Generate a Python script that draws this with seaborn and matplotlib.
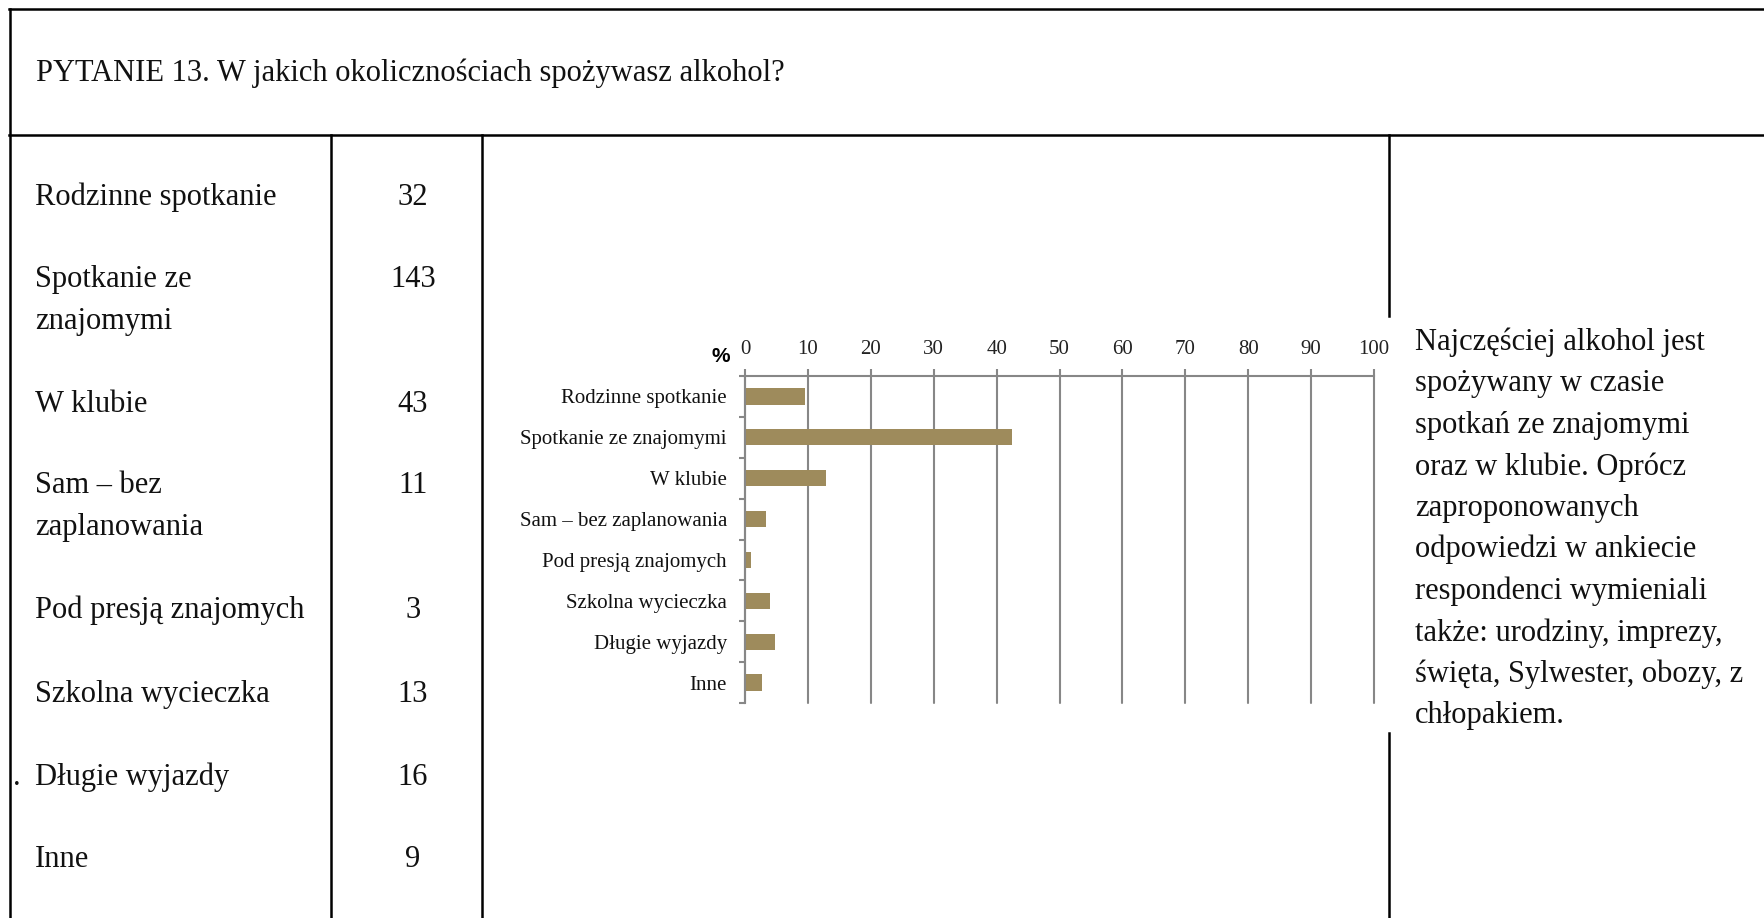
import numpy as np
import pandas as pd
import matplotlib
matplotlib.use("Agg")
import matplotlib.pyplot as plt
from matplotlib.lines import Line2D
import seaborn as sns

# ---------------- data ----------------
categories = ["Rodzinne spotkanie", "Spotkanie ze znajomymi", "W klubie",
              "Sam – bez zaplanowania", "Pod presją znajomych",
              "Szkolna wycieczka", "Długie wyjazdy", "Inne"]
counts = [32, 143, 43, 11, 3, 13, 16, 9]
percent = [9.5, 42.4, 12.8, 3.3, 0.9, 3.9, 4.7, 2.7]
x_ticks = [0, 10, 20, 30, 40, 50, 60, 70, 80, 90, 100]
table_labels = ["Rodzinne spotkanie", "Spotkanie ze\nznajomymi", "W klubie",
                "Sam – bez\nzaplanowania", "Pod presją znajomych",
                "Szkolna wycieczka", "Długie wyjazdy", "Inne"]
title = "PYTANIE 13. W jakich okolicznościach spożywasz alkohol?"
comment_lines = ["Najczęściej alkohol jest", "spożywany w czasie",
                 "spotkań ze znajomymi", "oraz w klubie. Oprócz",
                 "zaproponowanych", "odpowiedzi w ankiecie",
                 "respondenci wymieniali", "także: urodziny, imprezy,",
                 "święta, Sylwester, obozy, z", "chłopakiem."]

# ---------------- style / layout ----------------
W, H = 1764, 918
BAR = "#9E8B5C"
GRID = "#878787"
TXT = "#111111"
SERIF = ["Liberation Serif", "DejaVu Serif"]

sns.set_theme(style="white")
plt.rcParams["font.family"] = SERIF


def fx(px):
    return px / W


def fy(py):
    return 1 - py / H


fig = plt.figure(figsize=(W / 100, H / 100), dpi=100)
fig.patch.set_facecolor("white")

# table frame
frame_lw = 1.8
segs = [
    ((9, 9), (W, 9)),
    ((9, 135), (W, 135)),
    ((10, 9), (10, H)),
    ((331, 135), (331, H)),
    ((482, 135), (482, H)),
    ((1389, 135), (1389, 316)),
    ((1389, 733), (1389, H)),
]
for (x0, y0), (x1, y1) in segs:
    fig.add_artist(Line2D([fx(x0), fx(x1)], [fy(y0), fy(y1)],
                          transform=fig.transFigure, color="black",
                          lw=frame_lw, solid_capstyle="projecting"))

# title
fig.text(fx(36), fy(81), title, fontsize=22, color=TXT, va="baseline", ha="left")

# table rows
row_baselines = [205, 287, 412, 493, 618, 702, 785, 867]
line_step = 41.5
for lab, n, yb in zip(table_labels, counts, row_baselines):
    for k, part in enumerate(lab.split("\n")):
        fig.text(fx(35), fy(yb + k * line_step), part, fontsize=22, color=TXT,
                 va="baseline", ha="left")
    fig.text(fx(413), fy(yb), str(n), fontsize=22, color=TXT,
             va="baseline", ha="center")
fig.text(fx(13), fy(785), ".", fontsize=22, color=TXT, va="baseline", ha="left")

# comment
for k, line in enumerate(comment_lines):
    fig.text(fx(1415), fy(350 + k * line_step), line, fontsize=22, color=TXT,
             va="baseline", ha="left")

# ---------------- chart ----------------
ax = fig.add_axes([fx(745), fy(703), (1374 - 745) / W, (703 - 376) / H])
df = pd.DataFrame({"cat": categories, "pct": percent})
sns.barplot(data=df, x="pct", y="cat", color=BAR, saturation=1, width=0.4,
            linewidth=0, orient="h", ax=ax)
ax.set_xlabel("")
ax.set_ylabel("")
ax.set_xlim(0, 100)
ax.set_ylim(len(categories) - 0.5, -0.5)
ax.set_facecolor("white")

ax.xaxis.tick_top()
ax.set_xticks(x_ticks)
ax.set_xticklabels([str(t) for t in x_ticks])
ax.tick_params(axis="x", top=True, bottom=False, length=5, width=1.5,
               color=GRID, pad=7, labelsize=15, labelcolor="#222222")
ax.grid(axis="x", color=GRID, lw=1.5)
ax.grid(axis="y", visible=False)
ax.set_axisbelow(True)
for gl in ax.get_xgridlines():
    gl.set_clip_on(False)

ax.set_yticks(range(len(categories)))
ax.set_yticklabels(categories)
ax.set_yticks(np.arange(-0.5, len(categories), 1.0), minor=True)
ax.tick_params(axis="y", which="major", length=0, pad=13, labelsize=15,
               labelcolor=TXT)
ax.tick_params(axis="y", which="minor", left=True, length=4, width=1.5,
               color=GRID)

for side in ["bottom", "right"]:
    ax.spines[side].set_visible(False)
for side in ["top", "left"]:
    ax.spines[side].set_visible(True)
    ax.spines[side].set_color(GRID)
    ax.spines[side].set_linewidth(1.5)

fig.text(fx(721), fy(357), "%", fontsize=15, fontweight="bold", color="black",
         family=["Liberation Sans", "DejaVu Sans"], ha="center", va="center")

fig.savefig("out.png", dpi=100, facecolor="white")
